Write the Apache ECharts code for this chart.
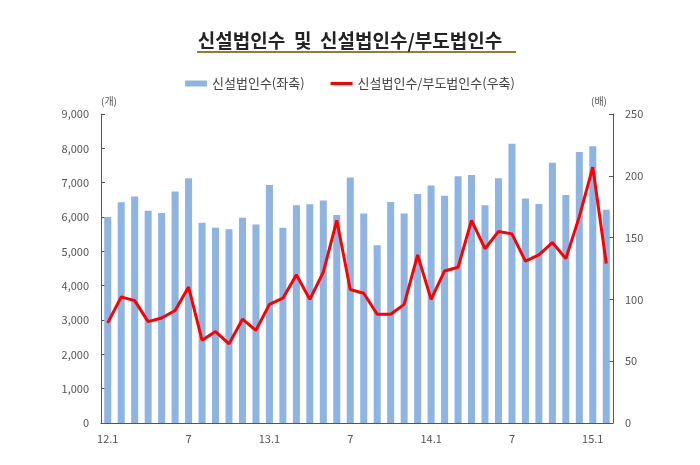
<!DOCTYPE html>
<html><head><meta charset="utf-8">
<script src="https://cdn.jsdelivr.net/npm/echarts@6/dist/echarts.min.js"></script>
<style>html,body{margin:0;padding:0;background:#fff}#c{width:700px;height:465px}</style>
</head><body><div id="c"></div>
<script>
const categories = ['12.1','2','3','4','5','6','7','8','9','10','11','12',
 '13.1','2','3','4','5','6','7','8','9','10','11','12',
 '14.1','2','3','4','5','6','7','8','9','10','11','12',
 '15.1','2'];
const newFirms = [6000,6430,6600,6180,6120,6740,7130,5830,5690,5640,5980,5780,
 6930,5690,6340,6370,6480,6060,7150,6100,5180,6440,6100,6670,
 6920,6620,7190,7220,6340,7130,8130,6540,6380,7580,6640,7890,
 8060,6210];
const ratio = [81,102,99,82,85,91,110,67,74,64,84,75,
 96,101,120,100,122,164,108,105,88,88,96,136,
 100,123,126,164,141,155,153,131,136,146,133,167,
 207,129];
const leftTicks = [0,1000,2000,3000,4000,5000,6000,7000,8000,9000];
const rightTicks = [0,50,100,150,200,250];

const chart = echarts.init(document.getElementById('c'));
const font = 'Noto Sans CJK KR';
chart.setOption({
  animation:false,
  textStyle:{fontFamily:font},
  title:{text:'신설법인수  및  신설법인수/부도법인수',left:'center',top:26,
    textStyle:{fontSize:19,fontWeight:'bold',color:'#222',fontFamily:font}},
  graphic:[{type:'rect',shape:{x:197,y:51,width:319,height:2},style:{fill:'#9a7b2f'}}],
  legend:{top:72,left:'center',itemGap:26,itemWidth:22,itemHeight:6,
    textStyle:{fontSize:13,color:'#444',fontFamily:font},
    data:[{name:'신설법인수(좌축)',icon:'rect'},
          {name:'신설법인수/부도법인수(우축)',icon:'path://M0,0 L22,0 L22,3 L0,3 Z',itemStyle:{color:'#ff0000'}}]},
  grid:{left:101,right:87,top:114,bottom:42},
  xAxis:{type:'category',data:categories,
    axisLine:{lineStyle:{color:'#555',width:1}},
    axisTick:{inside:true,interval:2,alignWithLabel:false,length:4,lineStyle:{color:'#555'}},
    axisLabel:{interval:5,color:'#555',fontSize:11,margin:10,fontFamily:font}},
  yAxis:[
    {type:'value',min:0,max:9000,interval:1000,name:'(개)',nameLocation:'end',nameGap:8,
      nameTextStyle:{color:'#555',fontSize:10,align:'left',padding:[0,0,0,0]},
      axisLine:{show:true,lineStyle:{color:'#555'}},
      axisTick:{show:true,inside:true,length:4,lineStyle:{color:'#555'}},
      splitLine:{show:false},
      axisLabel:{color:'#555',fontSize:11,margin:12,formatter:v=>v.toLocaleString('en-US')}},
    {type:'value',min:0,max:250,interval:50,name:'(배)',nameLocation:'end',nameGap:8,
      nameTextStyle:{color:'#555',fontSize:10,align:'right',padding:[0,6,0,0]},
      axisLine:{show:true,lineStyle:{color:'#555'}},
      axisTick:{show:true,inside:true,length:4,lineStyle:{color:'#555'}},
      splitLine:{show:false},
      axisLabel:{color:'#555',fontSize:11,margin:12}}
  ],
  series:[
    {name:'신설법인수(좌축)',type:'bar',data:newFirms,barWidth:'52%',
      itemStyle:{color:'#8db4e2'}},
    {name:'신설법인수/부도법인수(우축)',type:'line',yAxisIndex:1,data:ratio,
      symbol:'none',lineStyle:{color:'#ff0000',width:3},itemStyle:{color:'#ff0000'}}
  ]
});
</script></body></html>
